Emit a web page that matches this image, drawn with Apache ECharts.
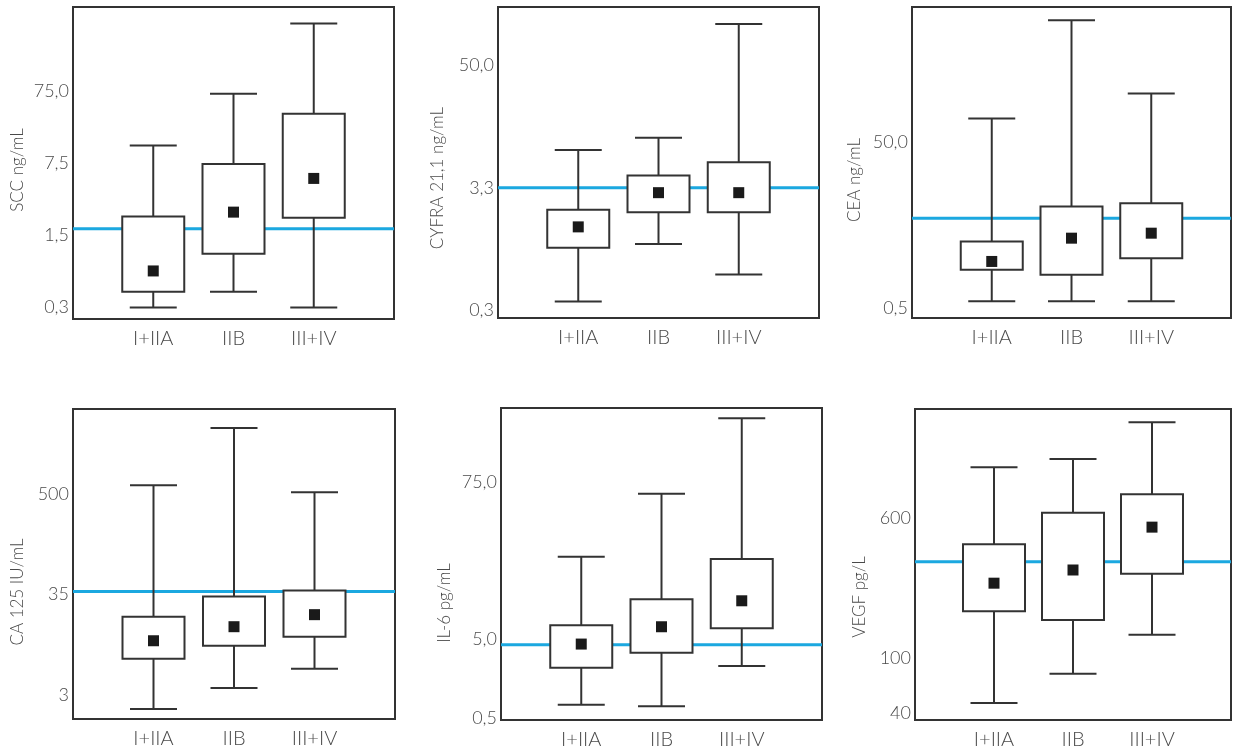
<!DOCTYPE html>
<html>
<head>
<meta charset="utf-8">
<script src="https://cdn.jsdelivr.net/npm/echarts@6/dist/echarts.min.js"></script>
<style>
  html, body { margin: 0; padding: 0; background: #fff; }
  #main { width: 1234px; height: 751px; }
</style>
</head>
<body>
<div id="main"></div>
<script>
// groups on the x axis (empty ends give the padding left/right of the boxes)
const categories = ["", "I+IIA", "IIB", "III+IV", ""];

const axisTitles = ["SCC ng/mL", "CYFRA 21,1 ng/mL", "CEA ng/mL", "CA 125 IU/mL", "IL-6 pg/mL", "VEGF pg/L"];

// y axes are not true log scales, so values are kept in "tick units"
// (position along the axis, tick labels placed at tickPos)
const tickLabels = [
  ["0,3", "1,5", "7,5", "75,0"],
  ["0,3", "3,3", "50,0"],
  ["0,5", "50,0"],
  ["3", "35", "500"],
  ["0,5", "5,0", "75,0"],
  ["40", "100", "600"],
];
const tickPos = [
  [0, 1, 2, 3],
  [0, 1, 2],
  [0, 1],
  [0, 1, 2],
  [0, 1, 3],
  [0, 1, 3.55],
];
const axisRange = [
  [-0.17, 4.18],
  [-0.066, 2.48],
  [-0.06, 1.81],
  [-0.24, 2.85],
  [-0.025, 3.94],
  [-0.13, 5.53],
];

// cut-off (blue line)
const cutoff = [1.09, 1.0, 0.54, 1.03, 0.93, 2.75];

// per group: [min, q1, mean, q3, max]
const scc = [[-0.01, 0.21, 0.5, 1.26, 2.25], [0.21, 0.74, 1.32, 1.99, 2.97], [-0.01, 1.24, 1.79, 2.69, 3.95]];
const cyfra = [[0.07, 0.51, 0.68, 0.82, 1.31], [0.54, 0.8, 0.96, 1.1, 1.41], [0.29, 0.8, 0.96, 1.21, 2.34]];
const cea = [[0.04, 0.23, 0.28, 0.4, 1.14], [0.04, 0.2, 0.42, 0.61, 1.73], [0.04, 0.3, 0.45, 0.63, 1.29]];
const ca125 = [[-0.14, 0.36, 0.54, 0.78, 2.09], [0.07, 0.49, 0.68, 0.98, 2.66], [0.26, 0.58, 0.8, 1.04, 2.02]];
const il6 = [[0.17, 0.64, 0.94, 1.18, 2.05], [0.15, 0.83, 1.16, 1.51, 2.85], [0.66, 1.14, 1.49, 2.02, 3.81]];
const vegf = [[0.18, 1.85, 2.36, 3.07, 4.47], [0.71, 1.69, 2.6, 3.64, 4.62], [1.42, 2.53, 3.38, 3.98, 5.29]];

const panels = [scc, cyfra, cea, ca125, il6, vegf];

const grids = [
  { left: 73, top: 7, width: 321, height: 312 },
  { left: 498, top: 7, width: 321, height: 311 },
  { left: 912, top: 7, width: 321, height: 311 },
  { left: 73, top: 409, width: 322, height: 310 },
  { left: 501, top: 408, width: 321, height: 312 },
  { left: 915, top: 409, width: 318, height: 311 },
];
// centre of each rotated y-axis title
const titlePos = [[18, 170], [438, 178], [855, 180], [18, 592], [445, 603], [860, 597]];

const FONT = "Lato";
const TEXT = "#4a4a4a";
const LINE = "#333";

let myChart = echarts.init(document.getElementById("main"));

const xAxis = [];
const yAxis = [];
const series = [];

panels.forEach((boxes, i) => {
  xAxis.push({
    gridIndex: i,
    type: "category",
    data: categories,
    boundaryGap: false,
    axisLine: { show: false },
    axisTick: { show: false },
    axisLabel: { fontFamily: FONT, fontWeight: 300, fontSize: 20, color: TEXT, margin: 10 },
    splitLine: { show: false },
  });
  yAxis.push({
    gridIndex: i,
    type: "value",
    min: axisRange[i][0],
    max: axisRange[i][1],
    axisLine: { show: false },
    axisTick: { show: false },
    splitLine: { show: false },
    axisLabel: {
      customValues: tickPos[i],
      fontFamily: FONT,
      fontWeight: 300,
      fontSize: 18,
      color: TEXT,
      margin: 4,
      formatter: (v) => {
        const k = tickPos[i].indexOf(v);
        return k >= 0 ? tickLabels[i][k] : "";
      },
    },
  });
  // blue cut-off line, behind the boxes
  series.push({
    type: "line",
    xAxisIndex: i,
    yAxisIndex: i,
    data: categories.map(() => cutoff[i]),
    symbol: "none",
    lineStyle: { color: "#1ba8e0", width: 3 },
    z: 1,
    silent: true,
  });
  series.push({
    type: "custom",
    xAxisIndex: i,
    yAxisIndex: i,
    z: 2,
    data: boxes.map((b, k) => [k + 1].concat(b)),
    renderItem: (params, api) => {
      const x = api.value(0);
      const pMin = api.coord([x, api.value(1)]);
      const pQ1 = api.coord([x, api.value(2)]);
      const pMean = api.coord([x, api.value(3)]);
      const pQ3 = api.coord([x, api.value(4)]);
      const pMax = api.coord([x, api.value(5)]);
      const cx = pMin[0];
      const boxW = 62;
      const capW = 47;
      const sq = 11;
      const ls = { stroke: LINE, lineWidth: 2 };
      return {
        type: "group",
        children: [
          { type: "line", shape: { x1: cx, y1: pQ3[1], x2: cx, y2: pMax[1] }, style: ls },
          { type: "line", shape: { x1: cx, y1: pMin[1], x2: cx, y2: pQ1[1] }, style: ls },
          { type: "line", shape: { x1: cx - capW / 2, y1: pMax[1], x2: cx + capW / 2, y2: pMax[1] }, style: ls },
          { type: "line", shape: { x1: cx - capW / 2, y1: pMin[1], x2: cx + capW / 2, y2: pMin[1] }, style: ls },
          {
            type: "rect",
            shape: { x: cx - boxW / 2, y: pQ3[1], width: boxW, height: pQ1[1] - pQ3[1] },
            style: { fill: "#fff", stroke: LINE, lineWidth: 2 },
          },
          {
            type: "rect",
            shape: { x: cx - sq / 2, y: pMean[1] - sq / 2, width: sq, height: sq },
            style: { fill: "#1a1a1a" },
          },
        ],
      };
    },
  });
});

let option = {
  animation: false,
  grid: grids.map((g) => Object.assign({ show: true, borderColor: LINE, borderWidth: 2, backgroundColor: "transparent" }, g)),
  xAxis: xAxis,
  yAxis: yAxis,
  series: series,
  graphic: axisTitles.map((t, i) => ({
    type: "text",
    x: titlePos[i][0],
    y: titlePos[i][1],
    rotation: Math.PI / 2,
    style: {
      text: t,
      fontFamily: FONT,
      fontWeight: 300,
      fontSize: 17,
      fill: TEXT,
      align: "center",
      verticalAlign: "middle",
    },
  })),
};
myChart.setOption(option);
</script>
</body>
</html>
